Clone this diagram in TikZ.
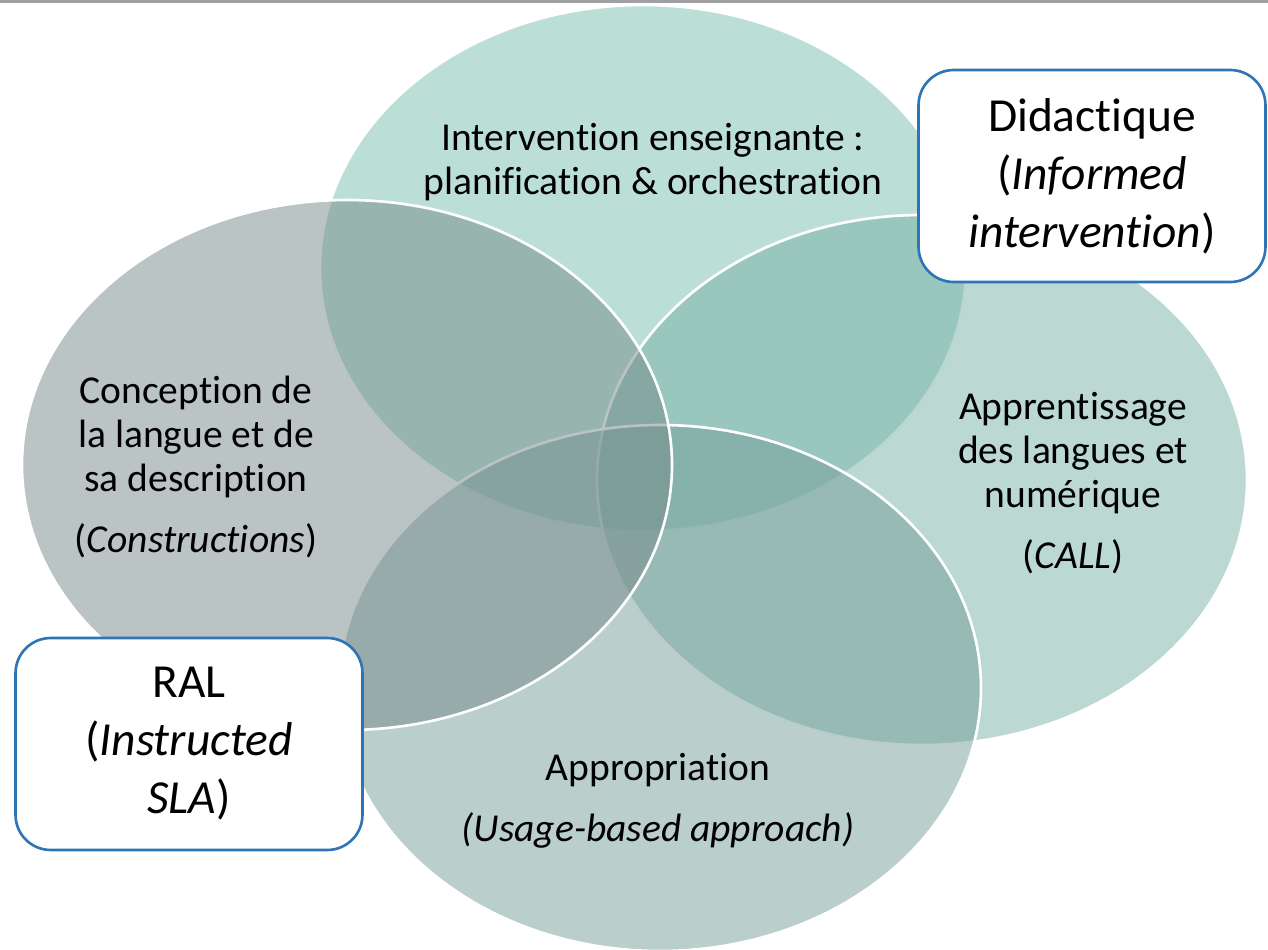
\documentclass[tikz,border=0pt]{standalone}
\usepackage{fontspec}
\setmainfont{Carlito}[Ligatures=NoCommon]

\definecolor{ctop}{RGB}{119,191,173}
\definecolor{cright}{RGB}{119,177,165}
\definecolor{cbottom}{RGB}{117,157,153}
\definecolor{cleft}{RGB}{117,137,137}
\definecolor{boxblue}{RGB}{46,117,182}
\definecolor{edgegray}{RGB}{160,160,160}

\begin{document}
\begin{tikzpicture}[x=0.02cm, y=-0.02cm,
    venn/.style={draw=white, line width=1.5pt, fill opacity=0.5},
    lbl/.style={align=center, font=\fontsize{22.5}{25}\selectfont},
    tag/.style={draw=boxblue, line width=1.5pt, fill=white, rounded corners=20pt,
        align=center, font=\fontsize{27}{33}\selectfont,
        minimum width=6.94cm, minimum height=4.24cm}]
    \useasboundingbox (0,0) rectangle (1268,950);
    \fill[edgegray] (0,0) rectangle (1268,3);

    % four sets, clockwise from the top
    \filldraw[venn, fill=ctop] (643,268) ellipse [x radius=323, y radius=263];
    \filldraw[venn, fill=cright] (922,480) ellipse [x radius=325, y radius=265];
    \filldraw[venn, fill=cbottom] (660,688) ellipse [x radius=321, y radius=263];
    \filldraw[venn, fill=cleft] (347,465) ellipse [x radius=325, y radius=265];

    \node[lbl] (interv) at (653,162) {Intervention enseignante :\\planification \& orchestration};
    \node[lbl] (concep) at (196,467) {Conception de\\la langue et de\\sa description\\[10pt](\textit{Constructions})};
    \node[lbl] (appren) at (1073,483) {Apprentissage\\des langues et\\numérique\\[10pt](\textit{CALL})};
    \node[lbl] (approp) at (658,801) {Appropriation\\[10pt]\textit{(Usage-based approach)}};

    \node[tag] (didac) at (1092,176) {Didactique\\(\textit{Informed}\\\textit{intervention})};
    \node[tag] (ral) at (189,744) {RAL\\(\textit{Instructed}\\\textit{SLA})};
\end{tikzpicture}
\end{document}
